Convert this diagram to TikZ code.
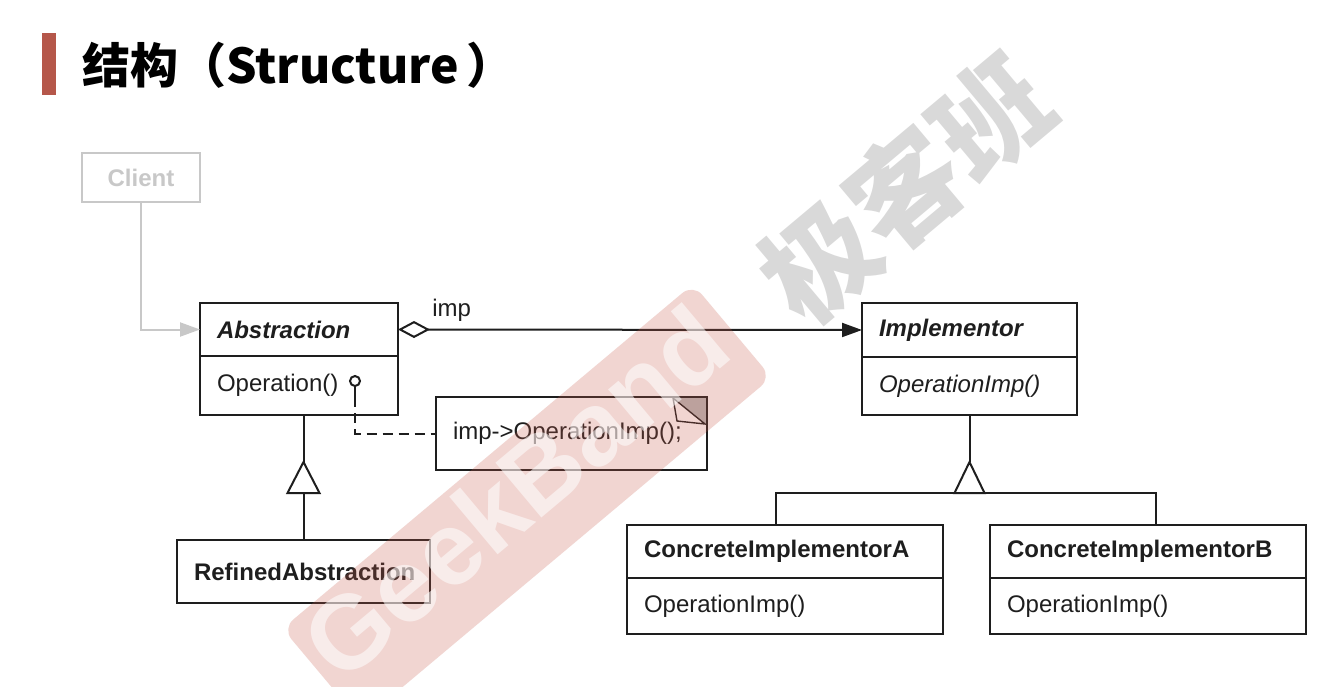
\documentclass[tikz,border=0pt]{standalone}
\usepackage{fontspec}
\setmainfont{Liberation Sans}
\newfontfamily\cjk{Noto Sans CJK SC}
\usetikzlibrary{positioning, arrows.meta}
\definecolor{barred}{RGB}{181,87,74}
\definecolor{ink}{RGB}{30,30,30}
\definecolor{clientgray}{RGB}{200,200,200}
\definecolor{bandred}{RGB}{200,90,75}
\newcommand{\umlfont}{\fontsize{12}{14}\selectfont}

\begin{document}
\begin{tikzpicture}[x=0.5pt, y=-0.5pt,
    cls/.style={draw=ink, line width=1pt, text=ink, align=left, inner xsep=8.5pt, inner ysep=0pt, outer sep=0pt, font=\umlfont},
    abshead/.style={cls, font=\umlfont\bfseries\itshape},
    conhead/.style={cls, font=\umlfont\bfseries},
    link/.style={draw=ink, line width=1pt}]
    \fill[white] (0,0) rectangle (1336,686);
    \useasboundingbox (0,0) rectangle (1336,686);

    % title
    \fill[barred] (42,33) rectangle (56,95);
    \node[anchor=west, inner sep=0pt, font=\cjk\bfseries\fontsize{24}{29}\selectfont] (title) at (82,65) {结构（Structure\hspace{4pt}）};

    % client
    \node[cls, draw=clientgray, text=clientgray, font=\umlfont\bfseries, align=center, text width=42pt, minimum height=24.5pt, anchor=north west] (client) at (82,153) {Client};

    % abstraction side
    \node[abshead, text width=82pt, minimum height=26.5pt, anchor=north west] (abs) at (200,303) {Abstraction};
    \node[cls, text width=82pt, minimum height=29.5pt, below=0pt of abs] (absop) {Operation()};
    \node[conhead, text width=109.5pt, minimum height=31.5pt, anchor=north west] (refined) at (177,540) {RefinedAbstraction};

    % implementor side
    \node[abshead, text width=90.5pt, minimum height=27pt, anchor=north west] (impl) at (862,303) {Implementor};
    \node[cls, font=\umlfont\itshape, text width=90.5pt, minimum height=29pt, below=0pt of impl] (implop) {OperationImp()};
    \node[conhead, text width=141pt, minimum height=26.5pt, anchor=north west] (concA) at (627,525) {ConcreteImplementorA};
    \node[cls, text width=141pt, minimum height=28pt, below=0pt of concA] (concAop) {OperationImp()};
    \node[conhead, text width=141pt, minimum height=26.5pt, anchor=north west] (concB) at (990,525) {ConcreteImplementorB};
    \node[cls, text width=141pt, minimum height=28pt, below=0pt of concB] (concBop) {OperationImp()};

    % note with folded corner
    \fill[gray!55] (673,397) -- (707,397) -- (707,425) -- cycle;
    \draw[ink, line width=0.7pt, fill=white] (673,398) -- (677,421) -- (705,424) -- cycle;
    \node[cls, text width=118.5pt, minimum height=36.5pt, anchor=north west] (note) at (436,397) {imp->OperationImp();};
    \node[draw=ink, line width=1pt, circle, inner sep=0pt, minimum size=5pt] (lolly) at (355,381) {};
    \draw[link] (lolly.south) -- ++(0,10) coordinate (lollystem);
    \draw[link, dash pattern=on 5pt off 3pt] (lollystem) |- (note.west);

    % connectors
    \draw[line width=1pt, clientgray, -{Triangle[length=10pt, width=7pt]}] (client.south) |- (abs.west);
    \draw[link, {Diamond[open, length=16pt, width=8.5pt]}-{Triangle[length=10pt, width=7pt]}] (abs.east) -- (impl.west);
    \node[font=\umlfont, text=ink, anchor=base west, inner sep=0pt] (implbl) at (432,316) {imp};

    % inheritance
    \path (refined.north) ++(0,-47) coordinate (absBase) ++(0,-31) coordinate (absTip);
    \draw[link] (refined.north) -- (absBase);
    \draw[link] (absTip) -- (absop.south -| absTip);
    \draw[link, fill=white] (absTip) -- ([xshift=-8pt]absBase) -- ([xshift=8pt]absBase) -- cycle;

    \path (implop.south) ++(0,47) coordinate (impTip) ++(0,31) coordinate (impBase);
    \draw[link] (implop.south) -- (impTip);
    \draw[link] ([xshift=-4.5pt]concA.north) |- (impBase) -| ([xshift=4pt]concB.north);
    \draw[link, fill=white] (impTip) -- ([xshift=-7.5pt]impBase) -- ([xshift=7.5pt]impBase) -- cycle;

    % watermarks
    \node[rotate=40, fill=bandred, fill opacity=0.25, rounded corners=7pt, minimum width=268pt, minimum height=61pt] (band) at (527,503) {};
    \node[rotate=40, text=white, text opacity=0.55, font=\bfseries\fontsize{52}{60}\selectfont] (geek) at (515,492) {GeekBand};
    \node[rotate=40, text=black, text opacity=0.15, font=\cjk\bfseries\fontsize{56}{64}\selectfont] (geekcn) at (905,188) {极客班};
\end{tikzpicture}
\end{document}
